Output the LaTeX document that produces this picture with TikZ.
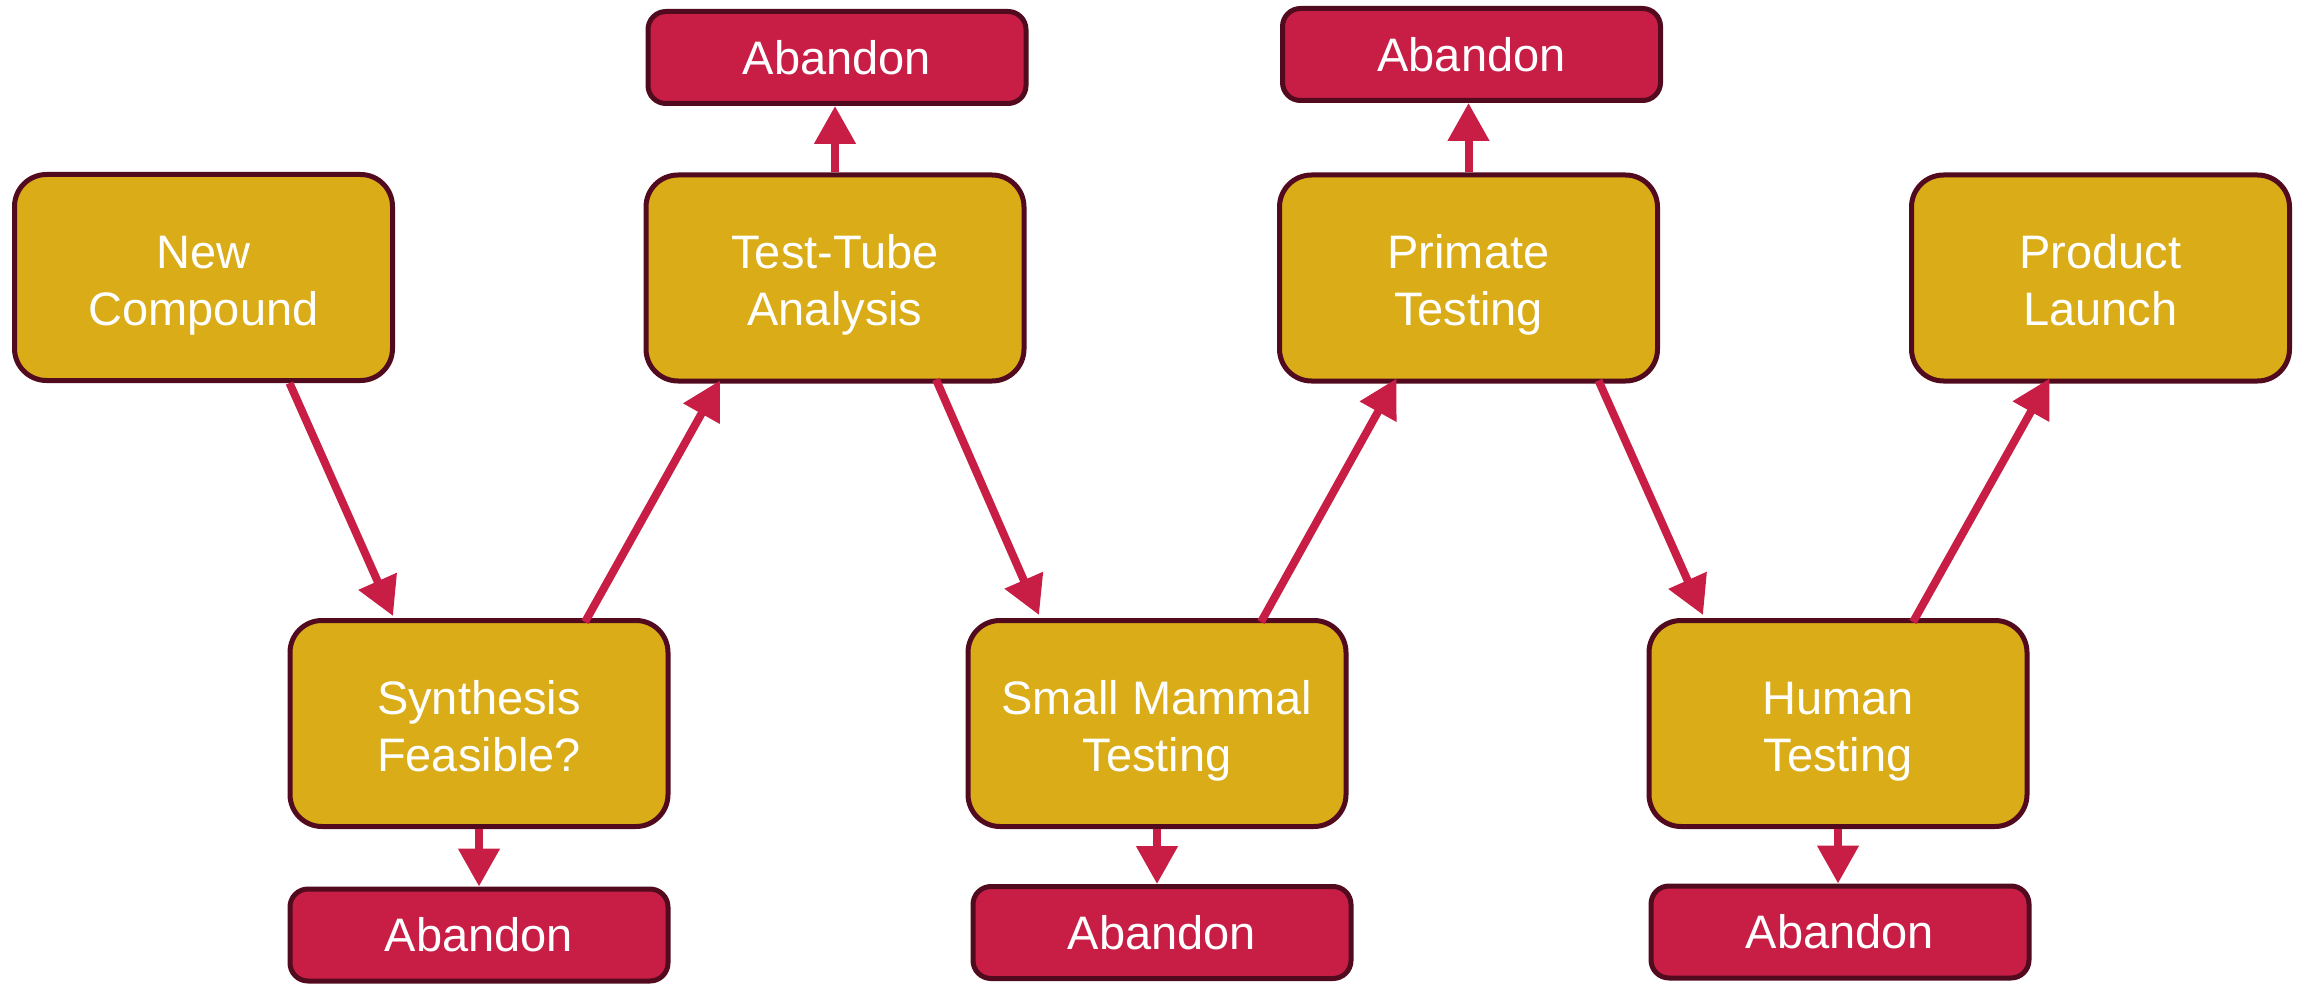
\documentclass[tikz,border=0pt]{standalone}
\usepackage{fontspec}
\setmainfont{Liberation Sans}
\usetikzlibrary{arrows.meta,calc}
\definecolor{gold}{HTML}{D9AC18}
\definecolor{crim}{HTML}{C81E45}
\definecolor{maroon}{HTML}{520A1E}
\newcommand{\twoline}[1]{\raisebox{-8pt}[\height][\depth]{\begin{tabular}{@{}c@{}}#1\end{tabular}}}
\tikzset{
  stage/.style={draw=maroon, line width=5pt, fill=gold, rounded corners=32pt,
    minimum width=378pt, minimum height=206pt, align=center, text=white,
    font=\fontsize{47}{57}\selectfont, inner sep=0pt},
  quit/.style={draw=maroon, line width=5pt, fill=crim, rounded corners=18pt,
    minimum width=378pt, minimum height=92pt, align=center, text=white,
    font=\fontsize{47}{57}\selectfont, inner sep=0pt},
  flow/.style={draw=crim, line width=8pt, -{Triangle[length=38pt,width=40pt]}}
}
\begin{document}
\begin{tikzpicture}[x=1pt,y=-1pt]
\useasboundingbox (0,0) rectangle (2300,984);
% stages
\node[stage] (nc) at (203.5,277.5) {\twoline{New\\Compound}};
\node[stage] (tt) at (835,278) {\twoline{Test-Tube\\Analysis}};
\node[stage] (pt) at (1468.5,278) {\twoline{Primate\\Testing}};
\node[stage] (pl) at (2100.5,278) {\twoline{Product\\Launch}};
\node[stage] (sf) at (479,723.5) {\twoline{Synthesis\\Feasible?}};
\node[stage] (sm) at (1157,723.5) {\twoline{Small Mammal\\Testing}};
\node[stage] (ht) at (1838,723.5) {\twoline{Human\\Testing}};
% abandon boxes
\node[quit] (a1) at (479,935) {Abandon};
\node[quit] (a2) at (1162,932.5) {Abandon};
\node[quit] (a3) at (1840,932) {Abandon};
\node[quit] (a4) at (837,57.5) {Abandon};
\node[quit] (a5) at (1471.5,54.5) {Abandon};
% diagonal flow
\draw[flow] ($(nc.south)+(86,0)$) -- ($(sf.north)+(-86,-2)$);
\draw[flow] ($(sf.north)+(106,4)$) -- ($(tt.south)+(-115,-3)$);
\draw[flow] ($(tt.south)+(101,-4)$) -- ($(sm.north)+(-118,-3)$);
\draw[flow] ($(sm.north)+(104,4)$) -- ($(pt.south)+(-72,-5)$);
\draw[flow] ($(pt.south)+(130,-3)$) -- ($(ht.north)+(-135,-3)$);
\draw[flow] ($(ht.north)+(75,4)$) -- ($(pl.south)+(-51,-5)$);
% abandon arrows
\draw[flow] (sf.south) -- (a1.north);
\draw[flow] (sm.south) -- (sm.south |- a2.north);
\draw[flow] (ht.south) -- (ht.south |- a3.north);
\draw[flow] (tt.north) -- (tt.north |- a4.south);
\draw[flow] (pt.north) -- (pt.north |- a5.south);
\end{tikzpicture}
\end{document}
